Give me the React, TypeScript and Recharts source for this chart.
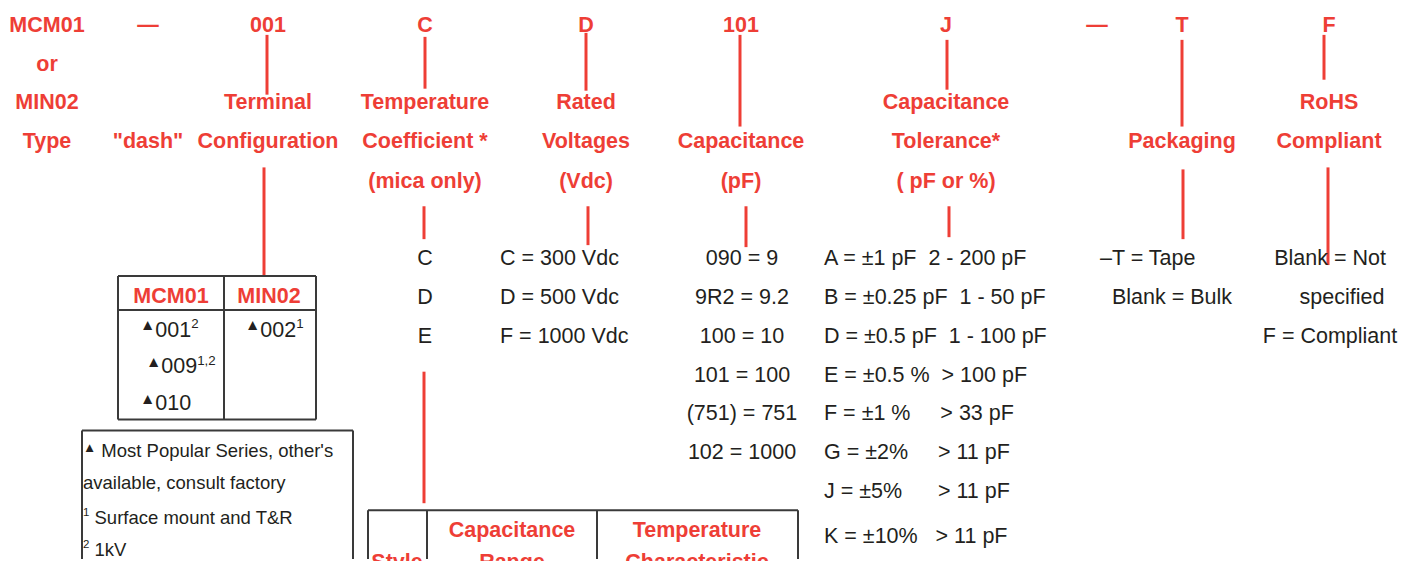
import React from 'react'
import { ScatterChart, Scatter, XAxis, YAxis, ReferenceLine } from 'recharts'

const RED = '#ee3e36'
const INK = '#231f20'
const RULE = '#3a3a3a'
const FONT = '"Liberation Sans", Arial, Helvetica, sans-serif'

// part number fields, left to right
const partCodes = ['MCM01', '—', '001', 'C', 'D', '101', 'J', '—', 'T', 'F']
const fieldTitles = [
    ['or', 'MIN02', 'Type', ''],
    ['', '', '"dash"', ''],
    ['', 'Terminal', 'Configuration', ''],
    ['', 'Temperature', 'Coefficient *', '(mica only)'],
    ['', 'Rated', 'Voltages', '(Vdc)'],
    ['', '', 'Capacitance', '(pF)'],
    ['', 'Capacitance', 'Tolerance*', '( pF or %)'],
    ['', '', '', ''],
    ['', '', 'Packaging', ''],
    ['', 'RoHS', 'Compliant', ''],
]

const tempCoeffOptions = ['C', 'D', 'E']
const voltageOptions = ['C = 300 Vdc', 'D = 500 Vdc', 'F = 1000 Vdc']
const capacitanceOptions = ['090 = 9', '9R2 = 9.2', '100 = 10', '101 = 100', '(751) = 751', '102 = 1000']
const toleranceOptions = [
    'A = ±1 pF  2 - 200 pF',
    'B = ±0.25 pF  1 - 50 pF',
    'D = ±0.5 pF  1 - 100 pF',
    'E = ±0.5 %  > 100 pF',
    'F = ±1 %     > 33 pF',
    'G = ±2%     > 11 pF',
    'J = ±5%      > 11 pF',
    'K = ±10%   > 11 pF',
]
const packagingOptions = ['–T = Tape', '  Blank = Bulk']
const rohsOptions = ['Blank = Not', '    specified', 'F = Compliant']

const terminalHeader = ['MCM01', 'MIN02']
const mcm01Terminals = ['▲001^2', ' ▲009^1,2', '▲010']
const min02Terminals = ['▲002^1']
const footnotes = ["▲ Most Popular Series, other's", 'available, consult factory', '^1 Surface mount and T&R', '^2 1kV']
const styleHeader = [['Style'], ['Capacitance', 'Range'], ['Temperature', 'Characteristic']]

// layout (pixels)
const W = 1416
const H = 561
const colX = [47, 148, 268, 425, 586, 741, 946, 1097, 1182, 1329]
const titleRowY = [24, 63, 102, 141, 181]
const optionRowY = [258, 297, 336, 376, 414, 453, 492, 537]
const connectors = [
    [267, 35, 267, 95], [264, 168, 264, 277],
    [425, 37, 425, 89], [424, 207, 424, 240], [424, 373, 424, 505],
    [586, 33, 586, 91], [588, 207, 588, 246],
    [740, 35, 740, 127], [746, 207, 746, 248],
    [947, 40, 947, 90], [949, 207, 949, 238],
    [1182, 40, 1182, 127], [1183, 170, 1183, 240],
    [1324, 35, 1324, 80], [1328, 168, 1328, 266],
]
const boxRules = [
    // terminal table
    [118, 277, 316, 277], [118, 311, 316, 311], [118, 421, 316, 421],
    [118, 277, 118, 421], [224, 277, 224, 421], [316, 277, 316, 421],
    // footnote box
    [82, 432, 353, 432], [82, 432, 82, 561], [353, 432, 353, 561],
    // style table
    [368, 512, 798, 512], [368, 512, 368, 561], [427, 512, 427, 561],
    [597, 512, 597, 561], [798, 512, 798, 561],
]

type Pt = { x: number; y: number; text: string }

const titlePts: Pt[] = []
partCodes.forEach((c, i) => {
    titlePts.push({ x: colX[i], y: titleRowY[0], text: c })
    fieldTitles[i].forEach((t, r) => {
        if (t) titlePts.push({ x: colX[i], y: titleRowY[r + 1], text: t })
    })
})

const centeredOptions: Pt[] = [
    ...tempCoeffOptions.map((t, i) => ({ x: 425, y: optionRowY[i], text: t })),
    ...capacitanceOptions.map((t, i) => ({ x: 742, y: optionRowY[i], text: t })),
    ...rohsOptions.map((t, i) => ({ x: 1330, y: optionRowY[i], text: t })),
]
const leftOptions: Pt[] = [
    ...voltageOptions.map((t, i) => ({ x: 500, y: optionRowY[i], text: t })),
    ...toleranceOptions.map((t, i) => ({ x: 824, y: optionRowY[i], text: t })),
    ...packagingOptions.map((t, i) => ({ x: 1100, y: optionRowY[i], text: t })),
]
const tableHeadPts: Pt[] = [
    { x: 171, y: 296, text: terminalHeader[0] },
    { x: 269, y: 296, text: terminalHeader[1] },
    { x: 397, y: 563, text: styleHeader[0][0] },
    ...styleHeader[1].map((t, i) => ({ x: 512, y: 531 + i * 32, text: t })),
    ...styleHeader[2].map((t, i) => ({ x: 697, y: 531 + i * 32, text: t })),
]
const terminalPts: Pt[] = [
    ...mcm01Terminals.map((t, i) => ({ x: 140, y: [330, 367, 404][i], text: t })),
    ...min02Terminals.map((t) => ({ x: 245, y: 330, text: t })),
]
const footnotePts: Pt[] = footnotes.map((t, i) => ({ x: 83, y: [452, 484, 519, 551][i], text: t }))

function parseRich(s: string) {
    const parts: { t: string; kind: string }[] = []
    let i = 0
    while (i < s.length) {
        if (s[i] === '▲') {
            parts.push({ t: '▲', kind: 'tri' })
            i++
        } else if (s[i] === '^') {
            let j = i + 1
            while (j < s.length && s[j] !== ' ') j++
            parts.push({ t: s.slice(i + 1, j), kind: 'sup' })
            i = j
        } else {
            let j = i
            while (j < s.length && s[j] !== '▲' && s[j] !== '^') j++
            parts.push({ t: s.slice(i, j), kind: 'n' })
            i = j
        }
    }
    return parts
}

function makeLabel(size: number, color: string, bold: boolean, anchor: string) {
    return (props: any) => {
        const { cx, cy, payload } = props
        const parts = parseRich(payload.text)
        let shift = 0
        return (
            <text
                x={cx}
                y={cy + size * 0.36}
                textAnchor={anchor}
                fill={color}
                fontFamily={FONT}
                fontSize={size}
                fontWeight={bold ? 700 : 400}
                style={{ whiteSpace: 'pre' }}
            >
                {parts.map((p, k) => {
                    const target = p.kind === 'tri' ? -size * 0.3 : p.kind === 'sup' ? -size * 0.4 : 0
                    const dy = target - shift
                    shift = target
                    const fs = p.kind === 'tri' ? size * 0.72 : p.kind === 'sup' ? size * 0.62 : size
                    return (
                        <tspan key={k} dy={dy} fontSize={fs}>
                            {p.t}
                        </tspan>
                    )
                })}
            </text>
        )
    }
}

export default function App() {
    return (
        <div style={{ position: 'absolute', left: 0, top: 0, width: W, height: H, background: '#fff' }}>
            <ScatterChart width={W} height={H} margin={{ top: 0, right: 0, bottom: 0, left: 0 }}>
                <XAxis type="number" dataKey="x" domain={[0, W]} hide />
                <YAxis type="number" dataKey="y" domain={[0, H]} reversed hide />
                {connectors.map((s, i) => (
                    <ReferenceLine
                        key={'c' + i}
                        segment={[{ x: s[0], y: s[1] }, { x: s[2], y: s[3] }]}
                        stroke={RED}
                        strokeWidth={3}
                        ifOverflow="visible"
                    />
                ))}
                {boxRules.map((s, i) => (
                    <ReferenceLine
                        key={'b' + i}
                        segment={[{ x: s[0], y: s[1] }, { x: s[2], y: s[3] }]}
                        stroke={RULE}
                        strokeWidth={2}
                        ifOverflow="visible"
                    />
                ))}
                <Scatter data={titlePts} isAnimationActive={false} shape={makeLabel(21.5, RED, true, 'middle')} />
                <Scatter data={tableHeadPts} isAnimationActive={false} shape={makeLabel(21.5, RED, true, 'middle')} />
                <Scatter data={centeredOptions} isAnimationActive={false} shape={makeLabel(21.5, INK, false, 'middle')} />
                <Scatter data={leftOptions} isAnimationActive={false} shape={makeLabel(21.5, INK, false, 'start')} />
                <Scatter data={terminalPts} isAnimationActive={false} shape={makeLabel(21.5, INK, false, 'start')} />
                <Scatter data={footnotePts} isAnimationActive={false} shape={makeLabel(18.5, INK, false, 'start')} />
            </ScatterChart>
        </div>
    )
}
